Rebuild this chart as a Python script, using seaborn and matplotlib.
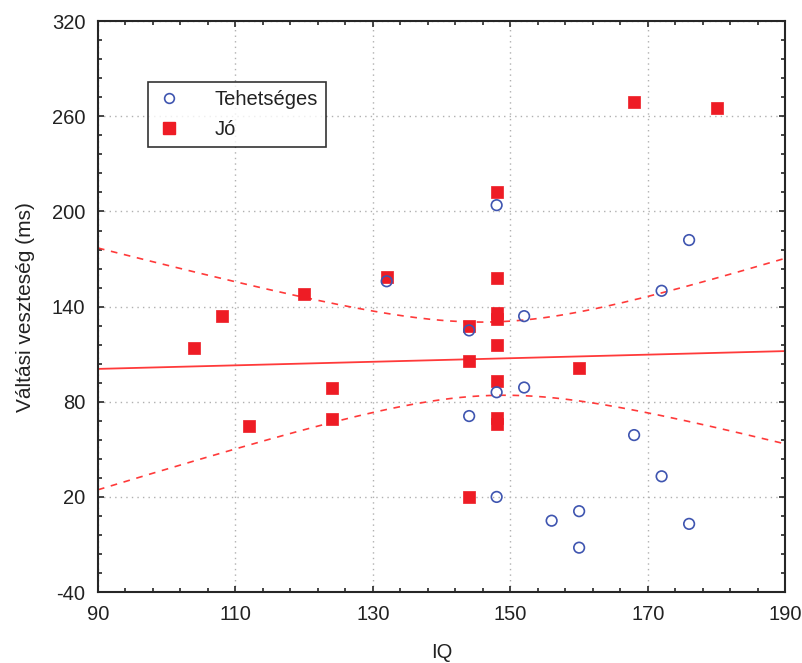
import numpy as np
import pandas as pd
import matplotlib
matplotlib.use('Agg')
import matplotlib.pyplot as plt
from matplotlib.lines import Line2D
from matplotlib.ticker import FixedLocator, AutoMinorLocator
import seaborn as sns

# IQ and switching loss (ms)
teh_iq = [132, 144, 144, 148, 148, 148, 152, 152, 156, 160, 160, 168, 172, 172, 176, 176]
teh_loss = [156, 125, 71, 204, 86, 20, 134, 89, 5, 11, -12, 59, 150, 33, 182, 3]

jo_iq = [104, 108, 112, 120, 124, 124, 132, 144, 144, 144,
         148, 148, 148, 148, 148, 148, 148, 148, 160, 168, 180]
jo_loss = [114, 134, 65, 148, 89, 69, 159, 128, 106, 20,
           212, 158, 136, 132, 116, 93, 70, 66, 101, 269, 265]

group_names = ['Tehetséges', 'Jó']

x_ticks = [90, 110, 130, 150, 170, 190]
y_ticks = [-40, 20, 80, 140, 200, 260, 320]

blue = '#3f55b0'
red = '#ee1c25'
line_red = '#ff3a3a'

df = pd.DataFrame({
    'IQ': teh_iq + jo_iq,
    'loss': teh_loss + jo_loss,
    'group': [group_names[0]] * len(teh_iq) + [group_names[1]] * len(jo_iq),
})

sns.set_style('ticks')
plt.rcParams['font.family'] = ['Liberation Sans', 'DejaVu Sans']

fig = plt.figure(figsize=(8.03, 6.63), dpi=100)
ax = fig.add_axes([0.122, 0.107, 0.856, 0.861])
ax.set_xlim(x_ticks[0], x_ticks[-1])
ax.set_ylim(y_ticks[0], y_ticks[-1])

# linear fit over both groups
sns.regplot(data=df, x='IQ', y='loss', scatter=False, ci=None, truncate=False,
            color=line_red, line_kws={'lw': 1.3}, ax=ax)

# 95% confidence band of the fit (dashed)
x = df['IQ'].to_numpy(float)
y = df['loss'].to_numpy(float)
n = len(x)
b, a = np.polyfit(x, y, 1)
resid = y - (a + b * x)
s = np.sqrt(np.sum(resid ** 2) / (n - 2))
sxx = np.sum((x - x.mean()) ** 2)
t_crit = 2.03  # t(0.975, 35)
xs = np.linspace(x_ticks[0], x_ticks[-1], 200)
half = t_crit * s * np.sqrt(1 / n + (xs - x.mean()) ** 2 / sxx)
ax.plot(xs, a + b * xs + half, color=line_red, lw=1.2, ls=(0, (4, 4)))
ax.plot(xs, a + b * xs - half, color=line_red, lw=1.2, ls=(0, (4, 4)))

jo = df[df['group'] == group_names[1]]
teh = df[df['group'] == group_names[0]]
sns.scatterplot(data=jo, x='IQ', y='loss', marker='s', s=75, color=red,
                edgecolor=red, linewidth=0.5, ax=ax, zorder=3)
sns.scatterplot(data=teh, x='IQ', y='loss', marker='o', s=58, facecolor='none',
                edgecolor=blue, linewidth=1.2, ax=ax, zorder=4)

ax.xaxis.set_major_locator(FixedLocator(x_ticks))
ax.yaxis.set_major_locator(FixedLocator(y_ticks))
ax.set_xticklabels([str(v) for v in x_ticks])
ax.set_yticklabels([str(v) for v in y_ticks])
ax.xaxis.set_minor_locator(AutoMinorLocator(5))
ax.yaxis.set_minor_locator(AutoMinorLocator(5))
ax.tick_params(which='both', direction='in', top=True, right=True, width=1.2)
ax.tick_params(which='major', length=4, labelsize=14.5, pad=9, labelcolor='#222222')
ax.tick_params(which='minor', length=3)
for sp in ax.spines.values():
    sp.set_linewidth(1.5)
ax.grid(True, which='major', color='#b0b0b0', ls=(0, (1, 3)), lw=1)

ax.set_xlabel('IQ', fontsize=14.5, labelpad=14, color='#222222')
ax.set_ylabel('Váltási veszteség (ms)', fontsize=15, labelpad=12, color='#222222')

handles = [
    Line2D([], [], marker='o', ls='none', mfc='none', mec=blue, mew=1.2, ms=7),
    Line2D([], [], marker='s', ls='none', mfc=red, mec=red, ms=8),
]
leg = ax.legend(handles, group_names, loc='upper left', bbox_to_anchor=(0.073, 0.894),
                frameon=True, fancybox=False, fontsize=14.5, handlelength=1.3,
                handletextpad=1.6, borderpad=0.4, labelspacing=0.55, borderaxespad=0)
leg.get_frame().set_edgecolor('black')
leg.get_frame().set_linewidth(1.2)
for t in leg.get_texts():
    t.set_color('#222222')

fig.savefig('out.png', dpi=100)
